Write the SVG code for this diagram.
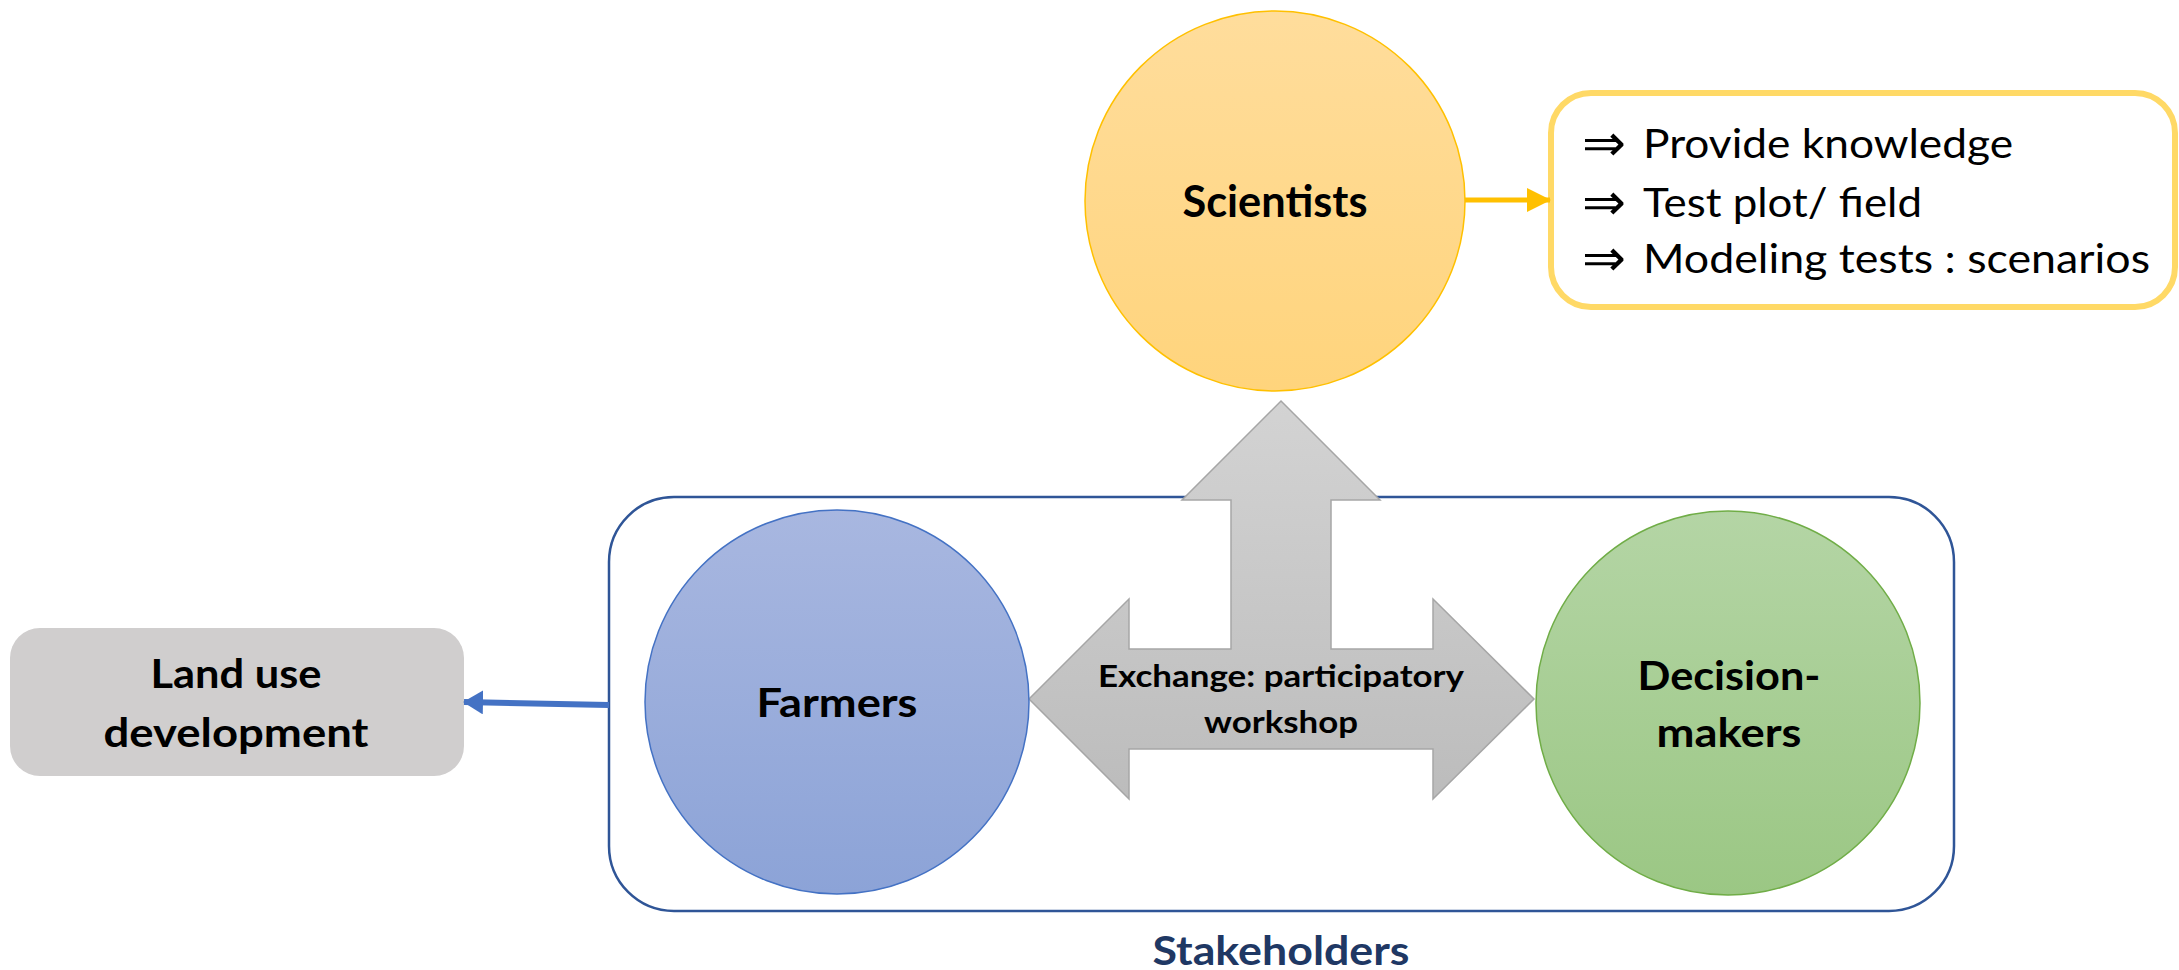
<svg xmlns="http://www.w3.org/2000/svg" width="2179" height="970" viewBox="0 0 2179 970">
<defs>
<linearGradient id="gSci" x1="0" y1="0" x2="0" y2="1"><stop offset="0" stop-color="#FFDD9C"/><stop offset="1" stop-color="#FFD47C"/></linearGradient>
<linearGradient id="gFarm" x1="0" y1="0" x2="0" y2="1"><stop offset="0" stop-color="#A8B7E0"/><stop offset="1" stop-color="#8CA3D7"/></linearGradient>
<linearGradient id="gDec" x1="0" y1="0" x2="0" y2="1"><stop offset="0" stop-color="#B4D5A5"/><stop offset="1" stop-color="#9BC784"/></linearGradient>
<linearGradient id="gGray" x1="0" y1="0" x2="0" y2="1"><stop offset="0" stop-color="#D3D3D3"/><stop offset="1" stop-color="#BCBCBC"/></linearGradient>
<marker id="mBlue" markerUnits="userSpaceOnUse" markerWidth="20" markerHeight="24" refX="19" refY="12" orient="auto"><path d="M0,0 L20,12 L0,24 z" fill="#4472C4"/></marker>
<marker id="mGold" markerUnits="userSpaceOnUse" markerWidth="24" markerHeight="24" refX="23" refY="12" orient="auto"><path d="M0,0 L24,12 L0,24 z" fill="#FFC000"/></marker>
<style>
.b{font-family:Lato,"Liberation Sans",sans-serif;font-weight:bold;fill:#000;text-anchor:middle}
.r{font-family:Lato,"Liberation Sans",sans-serif;fill:#000}
.ar{font-family:"DejaVu Sans",sans-serif;fill:#000}
</style>
</defs>

<g id="stakeholders">
<rect x="609" y="497" width="1345" height="414" rx="65" ry="65" fill="none" stroke="#2F5597" stroke-width="2.5"/>
<text class="b" x="1281" y="965" font-size="40" style="fill:#1F3864" textLength="257" lengthAdjust="spacingAndGlyphs">Stakeholders</text>
</g>

<g id="exchange">
<polygon points="1281,401 1380,500 1331,500 1331,649 1433,649 1433,599 1534,699 1433,799 1433,749 1129,749 1129,799 1029,699 1129,599 1129,649 1231,649 1231,500 1182,500" fill="url(#gGray)" stroke="#A6A6A6" stroke-width="1.5"/>
<text class="b" x="1281" y="687" font-size="30" textLength="366" lengthAdjust="spacingAndGlyphs">Exchange: participatory</text>
<text class="b" x="1281" y="733" font-size="30" textLength="154" lengthAdjust="spacingAndGlyphs">workshop</text>
</g>

<g id="scientists">
<circle cx="1275" cy="201" r="190" fill="url(#gSci)" stroke="#FFC000" stroke-width="1.5"/>
<text class="b" x="1275" y="217" font-size="43" textLength="185" lengthAdjust="spacingAndGlyphs">Scientists</text>
</g>

<g id="farmers">
<circle cx="837" cy="702" r="192" fill="url(#gFarm)" stroke="#4472C4" stroke-width="1.5"/>
<text class="b" x="837" y="717" font-size="41" textLength="161" lengthAdjust="spacingAndGlyphs">Farmers</text>
</g>

<g id="decision-makers">
<circle cx="1728" cy="703" r="192" fill="url(#gDec)" stroke="#70AD47" stroke-width="1.5"/>
<text class="b" x="1729" y="690" font-size="41" textLength="183" lengthAdjust="spacingAndGlyphs">Decision-</text>
<text class="b" x="1729" y="747" font-size="41" textLength="145" lengthAdjust="spacingAndGlyphs">makers</text>
</g>

<g id="land-use">
<rect x="10" y="628" width="454" height="148" rx="30" ry="30" fill="#D0CECE"/>
<text class="b" x="236" y="688" font-size="40" textLength="171" lengthAdjust="spacingAndGlyphs">Land use</text>
<text class="b" x="236" y="747" font-size="40" textLength="265" lengthAdjust="spacingAndGlyphs">development</text>
</g>

<g id="outcomes">
<rect x="1551" y="93" width="624" height="214" rx="40" ry="40" fill="#FFFFFF" stroke="#FFD966" stroke-width="6"/>
<text class="ar" x="1582" y="161" font-size="52" textLength="44" lengthAdjust="spacingAndGlyphs">⇒</text>
<text class="r" x="1643" y="158" font-size="40" textLength="370" lengthAdjust="spacingAndGlyphs">Provide knowledge</text>
<text class="ar" x="1582" y="220" font-size="52" textLength="44" lengthAdjust="spacingAndGlyphs">⇒</text>
<text class="r" x="1643" y="217" font-size="40" textLength="279" lengthAdjust="spacingAndGlyphs">Test plot/ field</text>
<text class="ar" x="1582" y="276" font-size="52" textLength="44" lengthAdjust="spacingAndGlyphs">⇒</text>
<text class="r" x="1643" y="273" font-size="40" textLength="507" lengthAdjust="spacingAndGlyphs">Modeling tests : scenarios</text>
</g>

<g id="connectors">
<line x1="1465" y1="200" x2="1550" y2="200" stroke="#FFC000" stroke-width="5" marker-end="url(#mGold)"/>
<line x1="609" y1="705" x2="464" y2="702" stroke="#4472C4" stroke-width="6" marker-end="url(#mBlue)"/>
</g>
</svg>
